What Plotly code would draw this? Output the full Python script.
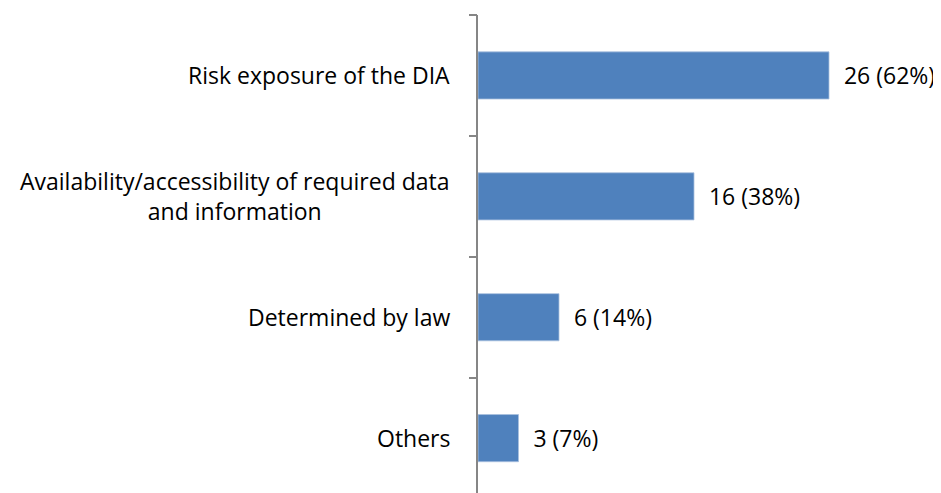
import plotly.graph_objects as go

categories = ["Risk exposure of the DIA",
              "Availability/accessibility of required data<br>and information",
              "Determined by law",
              "Others"]
counts = [26, 16, 6, 3]
percents = [62, 38, 14, 7]

FONT = "Open Sans"
FS = 23
n = len(categories)
ypos = list(range(n - 1, -1, -1))  # first category on top
labels = [f"\u00a0\u00a0{c} ({p}%)" for c, p in zip(counts, percents)]

fig = go.Figure()
fig.add_trace(go.Bar(
    x=counts, y=ypos, orientation="h",
    marker=dict(color="#4f81bd", line=dict(color="#a9c0de", width=0.8)),
    width=0.39,
    text=labels, textposition="outside", cliponaxis=False,
    textfont=dict(family=FONT, size=FS, color="#000000"),
    hoverinfo="skip",
))
# invisible trace to carry the boundary-tick axis
fig.add_trace(go.Scatter(x=[0], y=[0], yaxis="y2", mode="markers",
                         marker=dict(opacity=0), hoverinfo="skip", showlegend=False))

yrange = [-0.52, 3.5]
fig.update_layout(
    width=941, height=493,
    margin=dict(l=470, r=66, t=7, b=0),
    paper_bgcolor="white", plot_bgcolor="white",
    showlegend=False,
    xaxis=dict(range=[0, 30], showgrid=False, zeroline=False, showline=False,
               showticklabels=False, ticks=""),
    yaxis=dict(range=yrange, tickvals=ypos, showticklabels=False, ticks="",
               showgrid=False, zeroline=False, showline=True,
               linecolor="#868686", linewidth=2),
    yaxis2=dict(range=yrange, overlaying="y", side="left",
                tickvals=[i + 0.5 for i in range(n)], ticks="outside",
                ticklen=8, tickwidth=2, tickcolor="#868686",
                showticklabels=False, showgrid=False, zeroline=False, showline=False),
    annotations=[dict(x=0, y=yv, xref="x", yref="y", text=c, showarrow=False,
                      xanchor="right", yanchor="middle", align="center",
                      xshift=-26,
                      font=dict(family=FONT, size=FS, color="#000000"))
                 for c, yv in zip(categories, ypos)],
)

fig.write_html("out.html")
